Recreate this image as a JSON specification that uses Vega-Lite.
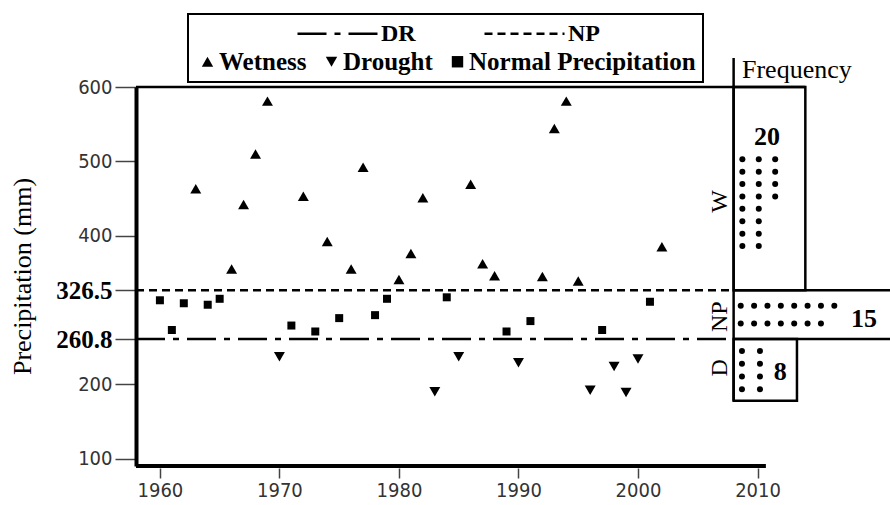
{
  "$schema": "https://vega.github.io/schema/vega-lite/v6.json",
  "width": 753,
  "height": 379,
  "autosize": {"type": "none"},
  "padding": {"left": 136, "top": 87, "right": 1, "bottom": 39},
  "background": "white",
  "config": {"view": {"stroke": null}, "legend": {"strokeWidth": 2}},
  "datasets": {
    "precip": [
      {"year": 1960, "precip": 313, "type": "Normal Precipitation"},
      {"year": 1961, "precip": 273, "type": "Normal Precipitation"},
      {"year": 1962, "precip": 309, "type": "Normal Precipitation"},
      {"year": 1963, "precip": 463, "type": "Wetness"},
      {"year": 1964, "precip": 307, "type": "Normal Precipitation"},
      {"year": 1965, "precip": 315, "type": "Normal Precipitation"},
      {"year": 1966, "precip": 355, "type": "Wetness"},
      {"year": 1967, "precip": 442, "type": "Wetness"},
      {"year": 1968, "precip": 510, "type": "Wetness"},
      {"year": 1969, "precip": 581, "type": "Wetness"},
      {"year": 1970, "precip": 237, "type": "Drought"},
      {"year": 1971, "precip": 279, "type": "Normal Precipitation"},
      {"year": 1972, "precip": 453, "type": "Wetness"},
      {"year": 1973, "precip": 271, "type": "Normal Precipitation"},
      {"year": 1974, "precip": 392, "type": "Wetness"},
      {"year": 1975, "precip": 289, "type": "Normal Precipitation"},
      {"year": 1976, "precip": 355, "type": "Wetness"},
      {"year": 1977, "precip": 492, "type": "Wetness"},
      {"year": 1978, "precip": 293, "type": "Normal Precipitation"},
      {"year": 1979, "precip": 315, "type": "Normal Precipitation"},
      {"year": 1980, "precip": 341, "type": "Wetness"},
      {"year": 1981, "precip": 376, "type": "Wetness"},
      {"year": 1982, "precip": 451, "type": "Wetness"},
      {"year": 1983, "precip": 190, "type": "Drought"},
      {"year": 1984, "precip": 317, "type": "Normal Precipitation"},
      {"year": 1985, "precip": 237, "type": "Drought"},
      {"year": 1986, "precip": 469, "type": "Wetness"},
      {"year": 1987, "precip": 362, "type": "Wetness"},
      {"year": 1988, "precip": 346, "type": "Wetness"},
      {"year": 1989, "precip": 271, "type": "Normal Precipitation"},
      {"year": 1990, "precip": 229, "type": "Drought"},
      {"year": 1991, "precip": 285, "type": "Normal Precipitation"},
      {"year": 1992, "precip": 345, "type": "Wetness"},
      {"year": 1993, "precip": 544, "type": "Wetness"},
      {"year": 1994, "precip": 581, "type": "Wetness"},
      {"year": 1995, "precip": 339, "type": "Wetness"},
      {"year": 1996, "precip": 192, "type": "Drought"},
      {"year": 1997, "precip": 273, "type": "Normal Precipitation"},
      {"year": 1998, "precip": 224, "type": "Drought"},
      {"year": 1999, "precip": 189, "type": "Drought"},
      {"year": 2000, "precip": 234, "type": "Drought"},
      {"year": 2001, "precip": 311, "type": "Normal Precipitation"},
      {"year": 2002, "precip": 385, "type": "Wetness"}
    ],
    "thresholds": [
      {"line": "DR", "precip": 260.8},
      {"line": "NP", "precip": 326.5}
    ],
    "dots": [
      {"class": "W", "col": 1, "row": 1}, {"class": "W", "col": 1, "row": 2}, {"class": "W", "col": 1, "row": 3}, {"class": "W", "col": 1, "row": 4},
      {"class": "W", "col": 1, "row": 5}, {"class": "W", "col": 1, "row": 6}, {"class": "W", "col": 1, "row": 7}, {"class": "W", "col": 1, "row": 8},
      {"class": "W", "col": 2, "row": 1}, {"class": "W", "col": 2, "row": 2}, {"class": "W", "col": 2, "row": 3}, {"class": "W", "col": 2, "row": 4},
      {"class": "W", "col": 2, "row": 5}, {"class": "W", "col": 2, "row": 6}, {"class": "W", "col": 2, "row": 7}, {"class": "W", "col": 2, "row": 8},
      {"class": "W", "col": 3, "row": 1}, {"class": "W", "col": 3, "row": 2}, {"class": "W", "col": 3, "row": 3}, {"class": "W", "col": 3, "row": 4},
      {"class": "NP", "col": 1, "row": 1}, {"class": "NP", "col": 2, "row": 1}, {"class": "NP", "col": 3, "row": 1}, {"class": "NP", "col": 4, "row": 1},
      {"class": "NP", "col": 5, "row": 1}, {"class": "NP", "col": 6, "row": 1}, {"class": "NP", "col": 7, "row": 1}, {"class": "NP", "col": 8, "row": 1},
      {"class": "NP", "col": 1, "row": 2}, {"class": "NP", "col": 2, "row": 2}, {"class": "NP", "col": 3, "row": 2}, {"class": "NP", "col": 4, "row": 2},
      {"class": "NP", "col": 5, "row": 2}, {"class": "NP", "col": 6, "row": 2}, {"class": "NP", "col": 7, "row": 2},
      {"class": "D", "col": 1, "row": 1}, {"class": "D", "col": 1, "row": 2}, {"class": "D", "col": 1, "row": 3}, {"class": "D", "col": 1, "row": 4},
      {"class": "D", "col": 2, "row": 1}, {"class": "D", "col": 2, "row": 2}, {"class": "D", "col": 2, "row": 3}, {"class": "D", "col": 2, "row": 4}
    ]
  },
  "resolve": {"scale": {"x": "independent", "y": "independent"}},
  "layer": [
    {
      "layer": [
        {
          "data": {"name": "thresholds"},
          "mark": {"type": "rule", "color": "black", "strokeWidth": 2.5, "opacity": 1},
          "encoding": {
            "x": {"datum": 1958, "type": "quantitative", "scale": {"domain": [1958, 2021], "nice": false, "zero": false},
              "axis": {"values": [1960, 1970, 1980, 1990, 2000, 2010], "format": "d", "domain": false, "grid": false, "ticks": true, "tickColor": "#444", "tickWidth": 1.5, "tickSize": 10, "offset": 2, "labelFont": "Liberation Sans Narrow, Arial Narrow, DejaVu Sans Condensed, sans-serif", "labelFontSize": 20, "labelColor": "#333", "labelPadding": 2, "labelFlush": false, "labelOverlap": false, "title": null}},
            "x2": {"datum": 2008},
            "y": {"field": "precip", "type": "quantitative", "scale": {"domain": [90, 600], "nice": false, "zero": false},
              "axis": {"values": [100, 200, 260.8, 326.5, 400, 500, 600], "labelExpr": "'' + datum.value", "domain": true, "domainColor": "black", "domainWidth": 4, "grid": false, "ticks": true, "tickColor": "#444", "tickWidth": 1.5, "tickSize": 21, "labelPadding": 3, "labelFlush": false, "labelOverlap": false,
                "labelFont": {"condition": {"test": "datum.value === 326.5 || datum.value === 260.8", "value": "Liberation Serif"}, "value": "Liberation Sans Narrow, Arial Narrow, DejaVu Sans Condensed, sans-serif"},
                "labelFontWeight": {"condition": {"test": "datum.value === 326.5 || datum.value === 260.8", "value": "bold"}, "value": "normal"},
                "labelFontSize": {"condition": {"test": "datum.value === 326.5 || datum.value === 260.8", "value": 25}, "value": 20},
                "labelColor": {"condition": {"test": "datum.value === 326.5 || datum.value === 260.8", "value": "black"}, "value": "#333"},
                "title": "Precipitation (mm)", "titleFont": "Liberation Serif", "titleFontWeight": "normal", "titleFontSize": 26, "titleColor": "black",
                "titleX": -114, "titleY": 189, "titleAngle": 270, "titleAlign": "center", "titleBaseline": "middle"}},
            "strokeDash": {"field": "line", "type": "nominal",
              "scale": {"domain": ["DR", "NP"], "range": [[29, 8, 6, 8], [8, 5]]},
              "legend": {"orient": "none", "legendX": 160, "legendY": -95, "direction": "horizontal", "columns": 2, "title": null,
                "labelFont": "Liberation Serif", "labelFontWeight": "bold", "labelFontSize": 24, "labelColor": "black", "labelOffset": 2, "labelLimit": 200,
                "symbolType": "stroke", "symbolSize": 6400, "symbolStrokeWidth": 2.5, "symbolStrokeColor": "black", "columnPadding": 63, "padding": 0}}
          }
        },
        {
          "data": {"values": [{}]},
          "mark": {"type": "rule", "color": "black", "strokeWidth": 2.5},
          "encoding": {
            "x": {"datum": 1958, "type": "quantitative", "scale": {"domain": [1958, 2021], "nice": false, "zero": false}},
            "x2": {"datum": 2014},
            "y": {"datum": 600, "type": "quantitative", "scale": {"domain": [90, 600], "nice": false, "zero": false}}
          }
        },
        {
          "data": {"values": [{}]},
          "mark": {"type": "rule", "color": "black", "strokeWidth": 4},
          "encoding": {
            "x": {"datum": 1958, "type": "quantitative", "scale": {"domain": [1958, 2021], "nice": false, "zero": false}},
            "x2": {"datum": 2010.7},
            "y": {"datum": 90, "type": "quantitative", "scale": {"domain": [90, 600], "nice": false, "zero": false}}
          }
        },
        {
          "data": {"values": [{}]},
          "mark": {"type": "rule", "color": "black", "strokeWidth": 2.5},
          "encoding": {
            "x": {"datum": 2008, "type": "quantitative", "scale": {"domain": [1958, 2021], "nice": false, "zero": false}},
            "y": {"datum": 177.8, "type": "quantitative", "scale": {"domain": [90, 600], "nice": false, "zero": false}},
            "y2": {"datum": 639}
          }
        },
        {
          "data": {"values": [{}]},
          "mark": {"type": "rect", "filled": false, "color": "black", "strokeWidth": 2.5},
          "encoding": {
            "x": {"datum": 2008, "type": "quantitative", "scale": {"domain": [1958, 2021], "nice": false, "zero": false}},
            "x2": {"datum": 2014},
            "y": {"datum": 326.5, "type": "quantitative", "scale": {"domain": [90, 600], "nice": false, "zero": false}},
            "y2": {"datum": 600}
          }
        },
        {
          "data": {"values": [{}]},
          "mark": {"type": "rect", "filled": false, "color": "black", "strokeWidth": 2.5},
          "encoding": {
            "x": {"datum": 2008, "type": "quantitative", "scale": {"domain": [1958, 2021], "nice": false, "zero": false}},
            "x2": {"datum": 2013.3},
            "y": {"datum": 177.8, "type": "quantitative", "scale": {"domain": [90, 600], "nice": false, "zero": false}},
            "y2": {"datum": 260.8}
          }
        },
        {
          "data": {"values": [{}]},
          "mark": {"type": "rule", "color": "black", "strokeWidth": 2.5},
          "encoding": {
            "x": {"datum": 2008, "type": "quantitative", "scale": {"domain": [1958, 2021], "nice": false, "zero": false}},
            "x2": {"datum": 2022},
            "y": {"datum": 326.5, "type": "quantitative", "scale": {"domain": [90, 600], "nice": false, "zero": false}}
          }
        },
        {
          "data": {"values": [{}]},
          "mark": {"type": "rule", "color": "black", "strokeWidth": 2.5},
          "encoding": {
            "x": {"datum": 2008, "type": "quantitative", "scale": {"domain": [1958, 2021], "nice": false, "zero": false}},
            "x2": {"datum": 2022},
            "y": {"datum": 260.8, "type": "quantitative", "scale": {"domain": [90, 600], "nice": false, "zero": false}}
          }
        },
        {
          "data": {"name": "precip"},
          "transform": [{"filter": "datum.type !== 'Normal Precipitation'"}],
          "mark": {"type": "point", "filled": true, "color": "black", "opacity": 1, "size": 120},
          "encoding": {
            "x": {"field": "year", "type": "quantitative", "scale": {"domain": [1958, 2021], "nice": false, "zero": false}},
            "y": {"field": "precip", "type": "quantitative", "scale": {"domain": [90, 600], "nice": false, "zero": false}},
            "shape": {"field": "type", "type": "nominal",
              "scale": {"domain": ["Wetness", "Drought", "Normal Precipitation"], "range": ["triangle-up", "triangle-down", "square"]},
              "legend": {"orient": "none", "legendX": 52, "legendY": -73, "direction": "horizontal", "columns": 3, "title": "\u00a0", "titleFontSize": 22, "titlePadding": 6,
                "labelFont": "Liberation Serif", "labelFontWeight": "bold", "labelFontSize": 25, "labelColor": "black", "labelOffset": -1, "labelLimit": 400,
                "symbolSize": 130, "symbolFillColor": "black", "symbolStrokeWidth": 0, "symbolOpacity": 1, "columnPadding": 12, "padding": 7, "strokeColor": "black"}}
          }
        },
        {
          "data": {"name": "precip"},
          "transform": [{"filter": "datum.type === 'Normal Precipitation'"}],
          "mark": {"type": "point", "filled": true, "color": "black", "opacity": 1, "size": 64},
          "encoding": {
            "x": {"field": "year", "type": "quantitative", "scale": {"domain": [1958, 2021], "nice": false, "zero": false}},
            "y": {"field": "precip", "type": "quantitative", "scale": {"domain": [90, 600], "nice": false, "zero": false}},
            "shape": {"field": "type", "type": "nominal",
              "scale": {"domain": ["Wetness", "Drought", "Normal Precipitation"], "range": ["triangle-up", "triangle-down", "square"]}}
          }
        },
        {
          "data": {"values": [{}]},
          "mark": {"type": "text", "text": "Frequency", "font": "Liberation Serif", "fontSize": 26, "align": "left", "baseline": "alphabetic", "color": "black"},
          "encoding": {
            "x": {"datum": 2008.7, "type": "quantitative", "scale": {"domain": [1958, 2021], "nice": false, "zero": false}},
            "y": {"datum": 612, "type": "quantitative", "scale": {"domain": [90, 600], "nice": false, "zero": false}}
          }
        },
        {
          "data": {"values": [{}]},
          "mark": {"type": "text", "text": "W", "font": "Liberation Serif", "fontSize": 24, "angle": 270, "align": "center", "baseline": "middle", "color": "black"},
          "encoding": {
            "x": {"datum": 2006.9, "type": "quantitative", "scale": {"domain": [1958, 2021], "nice": false, "zero": false}},
            "y": {"datum": 446, "type": "quantitative", "scale": {"domain": [90, 600], "nice": false, "zero": false}}
          }
        },
        {
          "data": {"values": [{}]},
          "mark": {"type": "text", "text": "NP", "font": "Liberation Serif", "fontSize": 24, "angle": 270, "align": "center", "baseline": "middle", "color": "black"},
          "encoding": {
            "x": {"datum": 2006.9, "type": "quantitative", "scale": {"domain": [1958, 2021], "nice": false, "zero": false}},
            "y": {"datum": 291, "type": "quantitative", "scale": {"domain": [90, 600], "nice": false, "zero": false}}
          }
        },
        {
          "data": {"values": [{}]},
          "mark": {"type": "text", "text": "D", "font": "Liberation Serif", "fontSize": 24, "angle": 270, "align": "center", "baseline": "middle", "color": "black"},
          "encoding": {
            "x": {"datum": 2006.9, "type": "quantitative", "scale": {"domain": [1958, 2021], "nice": false, "zero": false}},
            "y": {"datum": 222, "type": "quantitative", "scale": {"domain": [90, 600], "nice": false, "zero": false}}
          }
        },
        {
          "data": {"values": [{}]},
          "mark": {"type": "text", "text": "20", "font": "Liberation Serif", "fontWeight": "bold", "fontSize": 26, "align": "center", "baseline": "middle", "color": "black"},
          "encoding": {
            "x": {"datum": 2010.8, "type": "quantitative", "scale": {"domain": [1958, 2021], "nice": false, "zero": false}},
            "y": {"datum": 533, "type": "quantitative", "scale": {"domain": [90, 600], "nice": false, "zero": false}}
          }
        },
        {
          "data": {"values": [{}]},
          "mark": {"type": "text", "text": "15", "font": "Liberation Serif", "fontWeight": "bold", "fontSize": 26, "align": "center", "baseline": "middle", "color": "black"},
          "encoding": {
            "x": {"datum": 2018.9, "type": "quantitative", "scale": {"domain": [1958, 2021], "nice": false, "zero": false}},
            "y": {"datum": 288, "type": "quantitative", "scale": {"domain": [90, 600], "nice": false, "zero": false}}
          }
        },
        {
          "data": {"values": [{}]},
          "mark": {"type": "text", "text": "8", "font": "Liberation Serif", "fontWeight": "bold", "fontSize": 26, "align": "center", "baseline": "middle", "color": "black"},
          "encoding": {
            "x": {"datum": 2011.9, "type": "quantitative", "scale": {"domain": [1958, 2021], "nice": false, "zero": false}},
            "y": {"datum": 216, "type": "quantitative", "scale": {"domain": [90, 600], "nice": false, "zero": false}}
          }
        }
      ]
    },
    {
      "data": {"name": "dots"},
      "transform": [{"filter": "datum.class === 'W'"}],
      "mark": {"type": "circle", "size": 36, "color": "black", "opacity": 1},
      "encoding": {
        "x": {"field": "col", "type": "quantitative", "scale": {"domain": [-35.97, 9.94], "nice": false, "zero": false}, "axis": null},
        "y": {"field": "row", "type": "quantitative", "scale": {"domain": [-4.835, 25.75], "reverse": true, "nice": false, "zero": false}, "axis": null}
      }
    },
    {
      "data": {"name": "dots"},
      "transform": [{"filter": "datum.class === 'NP'"}],
      "mark": {"type": "circle", "size": 36, "color": "black", "opacity": 1},
      "encoding": {
        "x": {"field": "col", "type": "quantitative", "scale": {"domain": [-44.23, 12.09], "nice": false, "zero": false}, "axis": null},
        "y": {"field": "row", "type": "quantitative", "scale": {"domain": [-11.43, 10.1], "reverse": true, "nice": false, "zero": false}, "axis": null}
      }
    },
    {
      "data": {"name": "dots"},
      "transform": [{"filter": "datum.class === 'D'"}],
      "mark": {"type": "circle", "size": 36, "color": "black", "opacity": 1},
      "encoding": {
        "x": {"field": "col", "type": "quantitative", "scale": {"domain": [-32.67, 9.17], "nice": false, "zero": false}, "axis": null},
        "y": {"field": "row", "type": "quantitative", "scale": {"domain": [-19.67, 10.01], "reverse": true, "nice": false, "zero": false}, "axis": null}
      }
    }
  ]
}
